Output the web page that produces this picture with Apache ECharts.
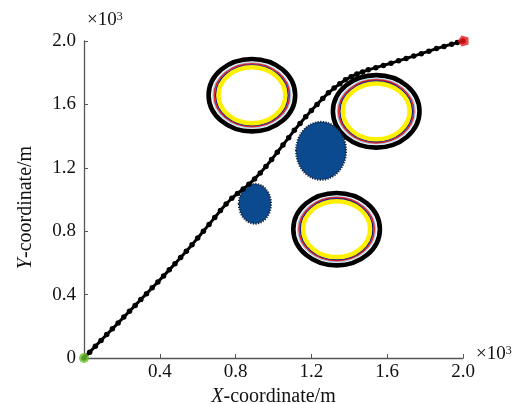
<!DOCTYPE html>
<html><head><meta charset="utf-8">
<script src="https://cdn.jsdelivr.net/npm/echarts@6/dist/echarts.min.js"></script>
<style>html,body{margin:0;padding:0;background:#fff}#c{width:524px;height:404px}</style>
</head><body><div id="c"></div>
<script>
// Path (units of 10^3 m)
const pathX = [0,0.03,0.06,0.09,0.12,0.15,0.18,0.21,0.24,0.27,0.30,0.33,0.36,0.39,0.42,0.45,0.48,0.51,0.54,0.57,0.60,0.63,0.66,0.69,0.72,0.75,0.78,0.81,0.84,0.87,0.90,0.93,0.96,0.99,1.02,1.05,1.08,1.11,1.14,1.17,1.20,1.23,1.26,1.29,1.32,1.35,1.38,1.41,1.44,1.47,1.50,1.54,1.58,1.62,1.66,1.70,1.74,1.78,1.82,1.86,1.90,1.94,1.97,2.0];
const pathY = [0,0.037,0.074,0.111,0.148,0.184,0.221,0.258,0.295,0.332,0.369,0.406,0.443,0.48,0.518,0.556,0.595,0.634,0.674,0.715,0.757,0.80,0.843,0.886,0.93,0.972,1.008,1.038,1.066,1.096,1.13,1.167,1.208,1.252,1.298,1.344,1.39,1.437,1.48,1.522,1.562,1.60,1.638,1.673,1.703,1.73,1.755,1.775,1.792,1.805,1.818,1.832,1.846,1.86,1.875,1.89,1.905,1.92,1.936,1.952,1.966,1.98,1.99,2.0];
const startPoint = [0, 0];
const endPoint = [2.0, 2.0];
const ringCenters = [[0.886, 1.658], [1.542, 1.556], [1.333, 0.813]];
const ringRadius = 0.24;
const blobCenters = [[1.251, 1.307], [0.902, 0.973]];
const blobRadiiX = [0.132, 0.085];
const blobRadiiY = [0.183, 0.126];
const xTickLabels = ['', '0.4', '0.8', '1.2', '1.6', '2.0'];
const yTickLabels = ['0', '0.4', '0.8', '1.2', '1.6', '2.0'];

const FONT = 'Liberation Serif';
const pathData = pathX.map((x, i) => [x, pathY[i]]);

function tickIndex(v) { return Math.round(v / 0.4); }

function renderRing(params, api) {
  const c = api.coord([api.value(0), api.value(1)]);
  const s = api.size([ringRadius, ringRadius]);
  const layers = [
    [0.952, '#000000', 4.6],
    [0.857, '#9fd3e6', 1.3],
    [0.828, '#e3232c', 1.6],
    [0.795, '#1b1b8a', 1.6],
    [0.735, '#fff000', 4.5]
  ];
  return {
    type: 'group',
    children: layers.map(l => ({
      type: 'ellipse',
      shape: { cx: c[0], cy: c[1], rx: s[0] * l[0], ry: s[1] * l[0] },
      style: { fill: 'none', stroke: l[1], lineWidth: l[2] }
    }))
  };
}

function renderBlob(params, api) {
  const c = api.coord([api.value(0), api.value(1)]);
  const s = api.size([api.value(2), api.value(3)]);
  return {
    type: 'ellipse',
    shape: { cx: c[0], cy: c[1], rx: s[0], ry: s[1] },
    style: { fill: '#0b4a8e', stroke: '#14223d', lineWidth: 2, lineDash: [1.2, 1.4] }
  };
}

const chart = echarts.init(document.getElementById('c'));
chart.setOption({
  animation: false,
  backgroundColor: '#fff',
  grid: { left: 84, right: 61, top: 41, bottom: 46, outerBoundsMode: 'none', containLabel: false },
  xAxis: {
    type: 'value', min: 0, max: 2, interval: 0.4,
    name: '{i|X}-coordinate/m', nameLocation: 'middle', nameGap: 27,
    nameTextStyle: { fontFamily: FONT, fontSize: 20, color: '#111',
      rich: { i: { fontFamily: FONT, fontSize: 20, fontStyle: 'italic', color: '#111' } } },
    axisLine: { lineStyle: { color: '#555', width: 1.3 } },
    axisTick: { inside: true, length: 4, lineStyle: { color: '#555' } },
    axisLabel: { fontFamily: FONT, fontSize: 19, color: '#111', margin: 5,
      formatter: v => xTickLabels[tickIndex(v)] },
    splitLine: { show: false }
  },
  yAxis: {
    type: 'value', min: 0, max: 2, interval: 0.4,
    name: '{i|Y}-coordinate/m', nameLocation: 'middle', nameGap: 48,
    nameTextStyle: { fontFamily: FONT, fontSize: 20, color: '#111', padding: [0, 16, 0, 0],
      rich: { i: { fontFamily: FONT, fontSize: 20, fontStyle: 'italic', color: '#111' } } },
    axisLine: { lineStyle: { color: '#555', width: 1.3 } },
    axisTick: { inside: true, length: 4, lineStyle: { color: '#555' } },
    axisLabel: { fontFamily: FONT, fontSize: 19, color: '#111', margin: 8,
      formatter: v => yTickLabels[tickIndex(v)] },
    splitLine: { show: false }
  },
  graphic: [
    { type: 'text', left: 87, top: 11, style: { text: '×10{s|3}', fontFamily: FONT, fontSize: 19, fill: '#111',
      rich: { s: { fontFamily: FONT, fontSize: 12, verticalAlign: 'top', fill: '#111' } } } },
    { type: 'text', left: 476, top: 345, style: { text: '×10{s|3}', fontFamily: FONT, fontSize: 19, fill: '#111',
      rich: { s: { fontFamily: FONT, fontSize: 12, verticalAlign: 'top', fill: '#111' } } } }
  ],
  series: [
    { type: 'custom', renderItem: renderRing, data: ringCenters, z: 1, clip: false, silent: true },
    { type: 'custom', renderItem: renderBlob,
      data: blobCenters.map((c, i) => [c[0], c[1], blobRadiiX[i], blobRadiiY[i]]), z: 2, clip: false, silent: true },
    { type: 'line', data: pathData, z: 3, symbol: 'circle', symbolSize: 5.5, showSymbol: true, clip: false,
      itemStyle: { color: '#000' }, lineStyle: { color: '#000', width: 3 } },
    { type: 'scatter', data: [startPoint], symbol: 'circle', symbolSize: 10, z: 4, clip: false,
      itemStyle: { color: '#6cc02c' } },
    { type: 'scatter', data: [endPoint], symbol: 'path://M0,-1 L0.95,-0.31 L0.59,0.81 L-0.59,0.81 L-0.95,-0.31 Z',
      symbolSize: 11, symbolRotate: 90, z: 4, clip: false, itemStyle: { color: '#e8141c' } }
  ]
});
</script></body></html>
